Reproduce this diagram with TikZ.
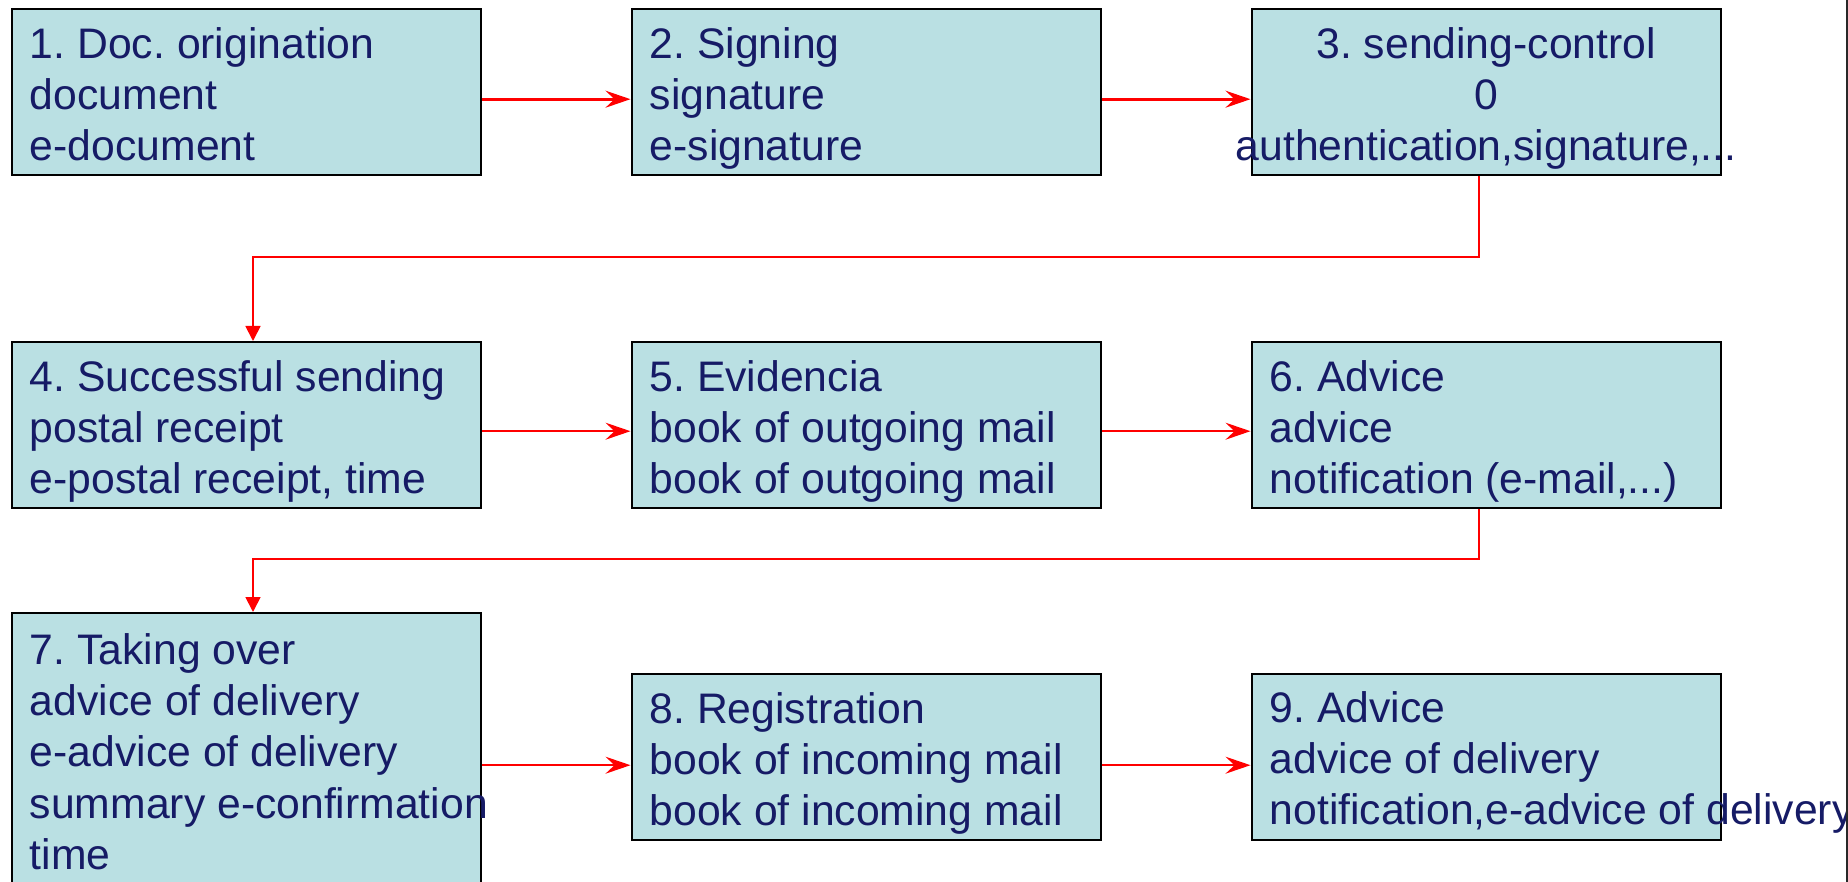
\documentclass[tikz,border=0pt]{standalone}
\usepackage{fontspec}
\setmainfont{Liberation Sans}
\usetikzlibrary{arrows.meta,calc}
\definecolor{boxfill}{RGB}{186,224,227}
\definecolor{boxtext}{RGB}{22,27,102}
\definecolor{edgeline}{RGB}{40,40,40}
\frenchspacing
\begin{document}
\begin{tikzpicture}[x=1pt,y=-1pt,
  stepbox/.style={draw=black, line width=2.4pt, fill=boxfill, rectangle, inner sep=0pt,
    minimum width=469pt, minimum height=166pt, anchor=north west},
  boxlabel/.style={text=boxtext, inner sep=0pt, font=\fontsize{42.7}{51.3}\selectfont\frenchspacing,
    align=left, anchor=north west},
  hconn/.style={red, line width=1.8pt, -{Stealth[length=25pt,width=17pt,inset=9pt]}},
  hconnthick/.style={hconn, line width=2.7pt},
  vconn/.style={red, line width=1.8pt, -{Triangle[length=15pt,width=15pt]}},
]
\useasboundingbox (0,0) rectangle (1848,882);
\clip (0,0) rectangle (1848,882);

% boxes
\node[stepbox] (b1) at (10.7,8) {};
\node[stepbox] (b2) at (630.5,8) {};
\node[stepbox] (b3) at (1250.5,8) {};
\node[stepbox] (b4) at (10.7,341) {};
\node[stepbox] (b5) at (630.5,341) {};
\node[stepbox] (b6) at (1250.5,341) {};
\node[stepbox, minimum height=330pt] (b7) at (10.7,612) {};
\node[stepbox] (b8) at (630.5,673) {};
\node[stepbox] (b9) at (1250.5,673) {};

% texts
\node[boxlabel] (t1) at ($(b1.north west)+(19,10)$) {\rule{0pt}{40pt}1. Doc. origination\\document\\e-document};
\node[boxlabel] (t2) at ($(b2.north west)+(19,10)$) {\rule{0pt}{40pt}2. Signing\\signature\\e-signature};
\node[boxlabel, anchor=north, align=center] (t3) at ($(b3.north)+(0,10)$) {\rule{0pt}{40pt}3. sending-control\\0\\authentication,signature,...};
\node[boxlabel] (t4) at ($(b4.north west)+(19,10)$) {\rule{0pt}{40pt}4. Successful sending\\postal receipt\\e-postal receipt, time};
\node[boxlabel] (t5) at ($(b5.north west)+(19,10)$) {\rule{0pt}{40pt}5. Evidencia\\book of outgoing mail\\book of outgoing mail};
\node[boxlabel] (t6) at ($(b6.north west)+(19,10)$) {\rule{0pt}{40pt}6. Advice\\advice\\notification (e-mail,...)};
\node[boxlabel] (t7) at ($(b7.north west)+(19,12)$) {\rule{0pt}{40pt}7. Taking over\\advice of delivery\\e-advice of delivery\\summary e-confirmation\\time};
\node[boxlabel] (t8) at ($(b8.north west)+(19,10)$) {\rule{0pt}{40pt}8. Registration\\book of incoming mail\\book of incoming mail};
\node[boxlabel] (t9) at ($(b9.north west)+(19,9)$) {\rule{0pt}{40pt}9. Advice\\advice of delivery\\notification,e-advice of delivery};

% horizontal connectors
\draw[hconnthick] ([yshift=-7pt]b1.east) -- ([yshift=-7pt]b2.west);
\draw[hconnthick] ([yshift=-7pt]b2.east) -- ([yshift=-7pt]b3.west);
\draw[hconn] ([yshift=-6pt]b4.east) -- ([yshift=-6pt]b5.west);
\draw[hconn] ([yshift=-6pt]b5.east) -- ([yshift=-6pt]b6.west);
\coordinate (r3) at ([yshift=-8pt]b8.west);
\draw[hconn] (b7.east |- r3) -- (r3);
\draw[hconn] ([yshift=-8pt]b8.east) -- ([yshift=-8pt]b9.west);

% row-to-row connectors
\coordinate (c1) at (253,257);
\coordinate (c2) at (253,559);
\draw[vconn] ([xshift=-7pt]b3.south) |- (c1) -- (c1 |- b4.north);
\draw[vconn] ([xshift=-7pt]b6.south) |- (c2) -- (c2 |- b7.north);

% right page edge line
\draw[edgeline, line width=1.2pt] (1847,0) -- (1847,882);
\end{tikzpicture}
\end{document}
